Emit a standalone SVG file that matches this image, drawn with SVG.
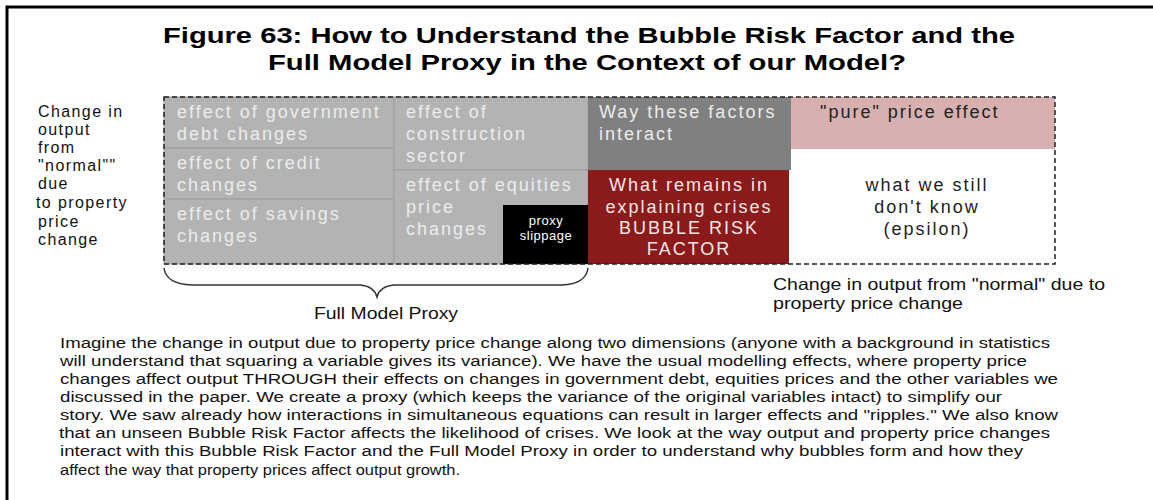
<svg xmlns="http://www.w3.org/2000/svg" width="1153" height="500" viewBox="0 0 1153 500">
<style>
text{font-family:"Liberation Sans",Arial,sans-serif}
.title{font-size:22px;font-weight:bold;fill:#000}
.lbl{font-size:16px;fill:#111}
.bx{font-size:18px;letter-spacing:2px;fill:#ececec}
.bxr{font-size:18px;letter-spacing:2px;fill:#f3e6e6}
.bxd{font-size:18px;letter-spacing:2px;fill:#222}
.par{font-size:15.5px;fill:#111}
.lg{fill:#b3b3b3;stroke:#9e9e9e;stroke-width:1}
</style>
<rect x="0" y="0" width="1153" height="500" fill="#fff"/>
<g id="frame"><path d="M7,500 V7 H1153" fill="none" stroke="#000" stroke-width="3"/></g>
<g id="title">
<text class="title" x="589" y="43" text-anchor="middle" textLength="852" lengthAdjust="spacingAndGlyphs">Figure 63: How to Understand the Bubble Risk Factor and the</text>
<text class="title" x="587" y="70" text-anchor="middle" textLength="638" lengthAdjust="spacingAndGlyphs">Full Model Proxy in the Context of our Model?</text>
</g>
<g id="left-label">
<text class="lbl" x="38" y="117" letter-spacing="1.4">Change in</text>
<text class="lbl" x="38" y="135" letter-spacing="1.4">output</text>
<text class="lbl" x="38" y="153" letter-spacing="1.4">from</text>
<text class="lbl" x="38" y="171" letter-spacing="1.4">"normal""</text>
<text class="lbl" x="38" y="189" letter-spacing="1.4">due</text>
<text class="lbl" x="36" y="208" letter-spacing="1.4">to property</text>
<text class="lbl" x="38" y="227" letter-spacing="1.4">price</text>
<text class="lbl" x="38" y="245" letter-spacing="1.4">change</text>
</g>
<g id="gov"><rect class="lg" x="164" y="97" width="230" height="51"/>
<text class="bx" x="177" y="118">effect of government</text><text class="bx" x="177" y="140">debt changes</text></g>
<g id="credit"><rect class="lg" x="164" y="148" width="230" height="51"/>
<text class="bx" x="177" y="169">effect of credit</text><text class="bx" x="177" y="191">changes</text></g>
<g id="savings"><rect class="lg" x="164" y="199" width="230" height="65"/>
<text class="bx" x="177" y="220">effect of savings</text><text class="bx" x="177" y="242">changes</text></g>
<g id="construction"><rect class="lg" x="394" y="97" width="194" height="73"/>
<text class="bx" x="406" y="118">effect of</text><text class="bx" x="406" y="140">construction</text><text class="bx" x="406" y="162">sector</text></g>
<g id="equities"><rect class="lg" x="394" y="170" width="194" height="94"/>
<text class="bx" x="406" y="191">effect of equities</text><text class="bx" x="406" y="213">price</text><text class="bx" x="406" y="235">changes</text></g>
<g id="slippage"><rect x="503" y="205" width="85" height="59" fill="#000"/>
<text x="546" y="225" font-size="13" fill="#fff" text-anchor="middle" letter-spacing="0.5">proxy</text>
<text x="546" y="240" font-size="13" fill="#fff" text-anchor="middle" letter-spacing="0.5">slippage</text></g>
<g id="interact"><rect x="588" y="97" width="203" height="73" fill="#808080"/>
<text class="bx" x="599" y="118">Way these factors</text><text class="bx" x="599" y="140">interact</text></g>
<g id="bubble"><rect x="588" y="170" width="201" height="94" fill="#8b1a1a"/>
<text class="bxr" x="689" y="191" text-anchor="middle">What remains in</text>
<text class="bxr" x="689" y="213" text-anchor="middle">explaining crises</text>
<text class="bxr" x="689" y="234" text-anchor="middle">BUBBLE RISK</text>
<text class="bxr" x="689" y="255" text-anchor="middle">FACTOR</text></g>
<g id="pure"><rect x="791" y="97" width="264" height="52" fill="#d9b0b0"/>
<text class="bxd" x="820" y="118">"pure" price effect</text></g>
<g id="epsilon">
<text class="bxd" x="927" y="191" text-anchor="middle">what we still</text>
<text class="bxd" x="927" y="213" text-anchor="middle">don't know</text>
<text class="bxd" x="927" y="235" text-anchor="middle">(epsilon)</text></g>
<g id="connectors">
<rect x="164" y="97" width="891" height="167" fill="none" stroke="#222" stroke-width="1.5" stroke-dasharray="5 3"/>
<path d="M164,268 Q166,284 192,285 L360,285 Q374,286 377,297 Q380,286 394,285 L562,285 Q586,284 588,268" fill="none" stroke="#333" stroke-width="1.5"/>
</g>
<g id="proxy-label"><text x="386" y="319" font-size="16.5" fill="#111" text-anchor="middle" textLength="144" lengthAdjust="spacingAndGlyphs">Full Model Proxy</text></g>
<g id="right-label">
<text x="773" y="290" font-size="16.5" fill="#111" textLength="332" lengthAdjust="spacingAndGlyphs">Change in output from "normal" due to</text>
<text x="773" y="309" font-size="16.5" fill="#111" textLength="190" lengthAdjust="spacingAndGlyphs">property price change</text>
</g>
<g id="paragraph">
<text class="par" x="60" y="348" textLength="990" lengthAdjust="spacingAndGlyphs">Imagine the change in output due to property price change along two dimensions (anyone with a background in statistics</text>
<text class="par" x="60" y="366" textLength="967" lengthAdjust="spacingAndGlyphs">will understand that squaring a variable gives its variance). We have the usual modelling effects, where property price</text>
<text class="par" x="60" y="384" textLength="998" lengthAdjust="spacingAndGlyphs">changes affect output THROUGH their effects on changes in government debt, equities prices and the other variables we</text>
<text class="par" x="60" y="402" textLength="942" lengthAdjust="spacingAndGlyphs">discussed in the paper. We create a proxy (which keeps the variance of the original variables intact) to simplify our</text>
<text class="par" x="60" y="420" textLength="998" lengthAdjust="spacingAndGlyphs">story. We saw already how interactions in simultaneous equations can result in larger effects and "ripples." We also know</text>
<text class="par" x="59" y="438" textLength="991" lengthAdjust="spacingAndGlyphs">that an unseen Bubble Risk Factor affects the likelihood of crises. We look at the way output and property price changes</text>
<text class="par" x="60" y="456" textLength="963" lengthAdjust="spacingAndGlyphs">interact with this Bubble Risk Factor and the Full Model Proxy in order to understand why bubbles form and how they</text>
<text class="par" x="60" y="475" textLength="400" lengthAdjust="spacingAndGlyphs">affect the way that property prices affect output growth.</text>
</g>
</svg>
